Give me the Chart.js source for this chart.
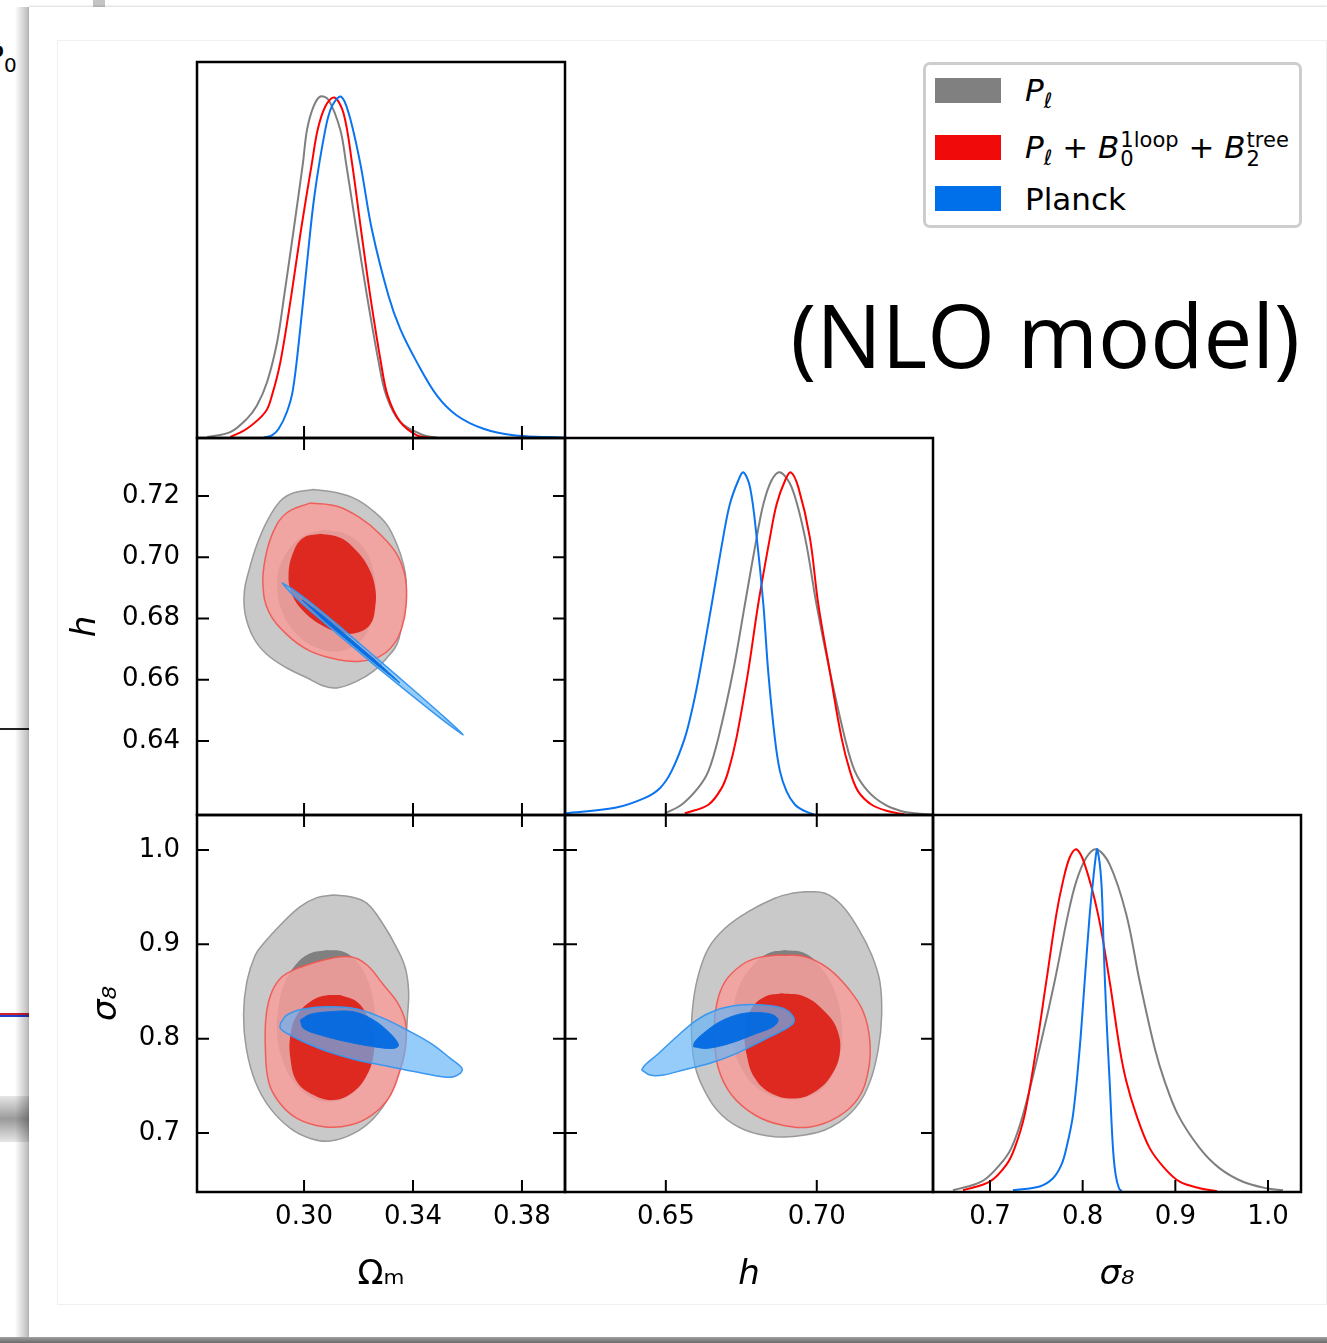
<!DOCTYPE html>
<html><head><meta charset="utf-8">
<script src="https://cdn.jsdelivr.net/npm/chart.js@4.4.1/dist/chart.umd.min.js"></script>
<style>
html,body{margin:0;padding:0;background:#fff;}
body{width:1327px;height:1343px;position:relative;overflow:hidden;font-family:'DejaVu Sans',sans-serif;color:#000;}
.abs{position:absolute;}
canvas.plot{position:absolute;left:0;top:0;}
.patch{width:66px;height:25px;}
.ltxt{font-family:'DejaVu Sans';font-size:31px;line-height:36px;white-space:nowrap;}
.ss{display:inline-flex;flex-direction:column;font-size:21px;line-height:19px;vertical-align:11px;margin-left:1px;}
.sb{font-size:21px;vertical-align:-7px;}
</style></head><body>
<!-- page / card decoration -->
<div class="abs" style="left:0;top:1096px;width:29px;height:46px;background:linear-gradient(#e6e6e6,#9a9a9a 50%,#e6e6e6);"></div>
<div class="abs" style="left:0;top:728px;width:29px;height:1.5px;background:#222;"></div>
<div class="abs" style="left:0;top:1013px;width:29px;height:2px;background:#d02030;"></div>
<div class="abs" style="left:0;top:1015px;width:29px;height:2px;background:#2040d0;"></div>
<div class="abs" style="left:-13px;top:40px;font-size:28px;line-height:34px;">P<span style="font-size:20px;vertical-align:-6px;">0</span></div>
<div class="abs" style="left:93px;top:0;width:12px;height:9px;background:#c4c4c4;"></div>
<div class="abs" style="left:15px;top:7px;width:14px;height:1331px;background:linear-gradient(to right,rgba(0,0,0,0),rgba(0,0,0,0.28));"></div>
<div class="abs" style="left:29px;top:7px;width:1298px;height:1331px;background:#fff;box-shadow:0 -1px 2px rgba(0,0,0,0.15);"></div>
<div class="abs" style="left:57px;top:40px;width:1270px;height:1265px;border:1px solid #f0f0f0;box-sizing:border-box;"></div>
<div class="abs" style="left:0;top:1337px;width:1327px;height:6px;background:linear-gradient(#a0a0a0,#6a6a6a);"></div>

<canvas id="c1" class="plot" width="1327" height="1343"></canvas>
<canvas id="c2" class="plot" width="1327" height="1343"></canvas>
<canvas id="c3" class="plot" width="1327" height="1343"></canvas>
<canvas id="c4" class="plot" width="1327" height="1343"></canvas>
<canvas id="c5" class="plot" width="1327" height="1343"></canvas>
<canvas id="c6" class="plot" width="1327" height="1343"></canvas>

<!-- legend -->
<div class="abs" style="left:923px;top:62px;width:379px;height:166px;border:3px solid #cdcdcd;border-radius:7px;box-sizing:border-box;background:#fff;"></div>
<div class="abs patch" style="left:935px;top:78px;background:#808080;"></div>
<div class="abs patch" style="left:935px;top:135px;background:#f00a0a;"></div>
<div class="abs patch" style="left:935px;top:186px;background:#0070ea;"></div>
<div class="abs ltxt" style="left:1025px;top:72px;"><i>P</i><span class="sb"><i>ℓ</i></span></div>
<div class="abs ltxt" style="left:1025px;top:129px;"><i>P</i><span class="sb"><i>ℓ</i></span> + <i>B</i><span class="ss"><span>1loop</span><span>0</span></span> + <i>B</i><span class="ss"><span>tree</span><span>2</span></span></div>
<div class="abs ltxt" style="left:1025px;top:181px;">Planck</div>
<div class="abs" style="right:27px;top:284px;font-family:'Open Sans';font-size:87px;line-height:100px;white-space:nowrap;">(NLO model)</div>

<script>
// ---------------- axis ticks ----------------
const omTicks = [0.30, 0.34, 0.38];
const omTickLabels = ['0.30', '0.34', '0.38'];
const hTicksX = [0.65, 0.70];
const hTickLabelsX = ['0.65', '0.70'];
const hTicksY = [0.64, 0.66, 0.68, 0.70, 0.72];
const hTickLabelsY = ['0.64', '0.66', '0.68', '0.70', '0.72'];
const s8Ticks = [0.7, 0.8, 0.9, 1.0];
const s8TickLabels = ['0.7', '0.8', '0.9', '1.0'];

const omRange = [0.2607, 0.3958];
const hRangeX = [0.6166, 0.7385];
const hRangeY = [0.6158, 0.7389];
const s8RangeX = [0.6385, 1.0356];
const s8RangeY = [0.6375, 1.0371];
const densRange = [0, 1.1];

// ---------------- 1D marginals ----------------
const omGrayX = [0.2644,0.2729,0.2790,0.2827,0.2864,0.2901,0.2927,0.2962,0.2996,0.3011,0.3035,0.3060,0.3090,0.3133,0.3154,0.3192,0.3231,0.3274,0.3302,0.3353,0.3439,0.3488];
const omGrayY = [0.003,0.017,0.056,0.095,0.163,0.280,0.416,0.610,0.805,0.902,0.970,0.999,0.989,0.902,0.805,0.610,0.416,0.222,0.124,0.047,0.008,0.001];
const omRedX = [0.2729,0.2790,0.2858,0.2882,0.2913,0.2953,0.2989,0.3029,0.3050,0.3078,0.3111,0.3145,0.3176,0.3209,0.3243,0.3282,0.3307,0.3353,0.3414,0.3463];
const omRedY = [0.003,0.027,0.076,0.124,0.222,0.416,0.610,0.805,0.902,0.970,0.996,0.950,0.805,0.610,0.416,0.222,0.124,0.047,0.008,0.001];
const omBlueX = [0.2852,0.2882,0.2907,0.2937,0.2959,0.2986,0.3011,0.3038,0.3078,0.3102,0.3135,0.3164,0.3206,0.3249,0.3310,0.3353,0.3414,0.3488,0.3561,0.3659,0.3769,0.3891,0.3958];
const omBlueY = [0.001,0.008,0.027,0.076,0.140,0.319,0.513,0.708,0.902,0.970,0.999,0.950,0.805,0.610,0.416,0.319,0.222,0.124,0.066,0.027,0.008,0.003,0.001];

const hGrayX = [0.6497,0.6552,0.6607,0.6641,0.6674,0.6723,0.6762,0.6801,0.6823,0.6850,0.6878,0.6917,0.6961,0.6999,0.7043,0.7093,0.7126,0.7170,0.7226,0.7281,0.7325,0.7385];
const hGrayY = [0.005,0.030,0.079,0.128,0.225,0.420,0.615,0.810,0.907,0.976,1.000,0.956,0.810,0.615,0.420,0.225,0.128,0.069,0.030,0.011,0.005,0.001];
const hRedX = [0.6563,0.6641,0.6685,0.6707,0.6734,0.6773,0.6806,0.6845,0.6867,0.6895,0.6914,0.6939,0.6977,0.7005,0.7043,0.7082,0.7110,0.7137,0.7182,0.7237,0.7290];
const hRedY = [0.005,0.030,0.079,0.128,0.225,0.420,0.615,0.810,0.907,0.976,1.000,0.956,0.810,0.615,0.420,0.225,0.128,0.069,0.030,0.011,0.002];
const hBlueX = [0.6166,0.6332,0.6431,0.6481,0.6519,0.6563,0.6591,0.6613,0.6652,0.6690,0.6712,0.6740,0.6757,0.6779,0.6801,0.6823,0.6839,0.6861,0.6878,0.6900,0.6928,0.6961,0.6990];
const hBlueY = [0.005,0.021,0.050,0.079,0.128,0.225,0.323,0.420,0.615,0.810,0.907,0.976,1.000,0.956,0.810,0.615,0.420,0.225,0.128,0.069,0.030,0.011,0.002];

const s8GrayX = [0.6601,0.6907,0.7104,0.7230,0.7356,0.7536,0.7698,0.7842,0.7932,0.8040,0.8148,0.8291,0.8471,0.8615,0.8777,0.8885,0.9029,0.9263,0.9479,0.9730,0.9982,1.0162];
const s8GrayY = [0.005,0.030,0.079,0.128,0.225,0.420,0.615,0.810,0.907,0.976,1.000,0.956,0.810,0.615,0.420,0.323,0.225,0.128,0.069,0.030,0.011,0.005];
const s8RedX = [0.6709,0.6997,0.7176,0.7266,0.7374,0.7500,0.7608,0.7716,0.7788,0.7860,0.7932,0.8022,0.8166,0.8291,0.8399,0.8471,0.8579,0.8723,0.8885,0.9047,0.9263,0.9450];
const s8RedY = [0.005,0.030,0.079,0.128,0.225,0.420,0.615,0.810,0.907,0.976,1.000,0.956,0.810,0.615,0.420,0.323,0.225,0.128,0.069,0.030,0.011,0.002];
const s8BlueX = [0.7248,0.7536,0.7680,0.7770,0.7824,0.7896,0.7968,0.8022,0.8076,0.8112,0.8140,0.8158,0.8201,0.8227,0.8255,0.8291,0.8327,0.8356,0.8392,0.8420];
const s8BlueY = [0.005,0.016,0.040,0.079,0.128,0.225,0.420,0.615,0.810,0.907,0.976,1.000,0.907,0.712,0.518,0.323,0.128,0.050,0.011,0.002];

// ---------------- 2D contours (x, y) ----------------
// Omega_m vs h
const omH_grayOuter = [[0.3035,0.7221],[0.3121,0.7210],[0.3194,0.7188],[0.3255,0.7150],[0.3304,0.7106],[0.3341,0.7041],[0.3365,0.6976],[0.3375,0.6921],[0.3372,0.6845],[0.3359,0.6780],[0.3341,0.6715],[0.3304,0.6671],[0.3255,0.6628],[0.3194,0.6595],[0.3121,0.6573],[0.3072,0.6579],[0.3011,0.6606],[0.2937,0.6638],[0.2864,0.6682],[0.2815,0.6736],[0.2784,0.6813],[0.2781,0.6889],[0.2797,0.6954],[0.2827,0.7041],[0.2864,0.7117],[0.2913,0.7183],[0.2962,0.7210]];
const omH_grayInner = [[0.3072,0.7090],[0.3157,0.7074],[0.3219,0.7030],[0.3255,0.6954],[0.3261,0.6867],[0.3243,0.6780],[0.3206,0.6726],[0.3133,0.6693],[0.3047,0.6704],[0.2974,0.6747],[0.2919,0.6823],[0.2901,0.6911],[0.2919,0.6987],[0.2986,0.7063]];
const omH_redOuter = [[0.3023,0.7177],[0.3121,0.7166],[0.3206,0.7128],[0.3280,0.7074],[0.3341,0.7009],[0.3372,0.6932],[0.3375,0.6845],[0.3359,0.6769],[0.3329,0.6715],[0.3280,0.6677],[0.3206,0.6660],[0.3121,0.6666],[0.3023,0.6693],[0.2937,0.6747],[0.2870,0.6823],[0.2849,0.6911],[0.2858,0.6998],[0.2888,0.7085],[0.2937,0.7145]];
const omH_redInner = [[0.3060,0.7076],[0.3133,0.7063],[0.3194,0.7019],[0.3237,0.6965],[0.3261,0.6900],[0.3261,0.6834],[0.3243,0.6780],[0.3194,0.6753],[0.3133,0.6753],[0.3060,0.6780],[0.2998,0.6823],[0.2956,0.6878],[0.2943,0.6943],[0.2962,0.7019],[0.2998,0.7063]];
const omH_blueOuter = [[0.2919,0.6916],[0.2952,0.6899],[0.3019,0.6855],[0.3119,0.6782],[0.3251,0.6682],[0.3384,0.6580],[0.3517,0.6476],[0.3584,0.6420],[0.3517,0.6463],[0.3384,0.6557],[0.3251,0.6653],[0.3119,0.6752],[0.3019,0.6828],[0.2952,0.6883]];
const omH_blueInner = [[0.2993,0.6860],[0.3065,0.6812],[0.3173,0.6731],[0.3280,0.6649],[0.3352,0.6589],[0.3280,0.6639],[0.3173,0.6718],[0.3065,0.6800]];

// Omega_m vs sigma_8
const omS_grayOuter = [[0.3109,0.9523],[0.3170,0.9505],[0.3231,0.9435],[0.3292,0.9205],[0.3341,0.8958],[0.3372,0.8746],[0.3384,0.8498],[0.3380,0.8251],[0.3372,0.7968],[0.3353,0.7686],[0.3316,0.7403],[0.3255,0.7155],[0.3182,0.6996],[0.3096,0.6915],[0.3023,0.6943],[0.2950,0.7049],[0.2876,0.7261],[0.2821,0.7544],[0.2788,0.7897],[0.2778,0.8251],[0.2790,0.8604],[0.2821,0.8887],[0.2852,0.9011],[0.2913,0.9205],[0.2986,0.9399],[0.3047,0.9495]];
const omS_grayInner = [[0.3084,0.8940],[0.3145,0.8922],[0.3194,0.8816],[0.3231,0.8640],[0.3255,0.8392],[0.3261,0.8109],[0.3249,0.7827],[0.3219,0.7580],[0.3170,0.7403],[0.3096,0.7332],[0.3023,0.7385],[0.2962,0.7544],[0.2919,0.7791],[0.2901,0.8074],[0.2907,0.8357],[0.2931,0.8604],[0.2974,0.8799],[0.3023,0.8905]];
const omS_redOuter = [[0.2974,0.8746],[0.3072,0.8834],[0.3170,0.8869],[0.3231,0.8781],[0.3292,0.8569],[0.3341,0.8392],[0.3372,0.8180],[0.3372,0.7897],[0.3347,0.7615],[0.3310,0.7367],[0.3249,0.7191],[0.3170,0.7085],[0.3072,0.7067],[0.2974,0.7155],[0.2907,0.7332],[0.2870,0.7544],[0.2858,0.7897],[0.2861,0.8251],[0.2882,0.8498],[0.2919,0.8657]];
const omS_redInner = [[0.3133,0.8463],[0.3194,0.8392],[0.3231,0.8251],[0.3255,0.8074],[0.3255,0.7827],[0.3231,0.7615],[0.3182,0.7438],[0.3109,0.7350],[0.3035,0.7403],[0.2974,0.7544],[0.2950,0.7791],[0.2950,0.8039],[0.2974,0.8251],[0.3023,0.8392],[0.3072,0.8456]];
const omS_blueOuter = [[0.2913,0.8162],[0.2937,0.8251],[0.2998,0.8314],[0.3096,0.8339],[0.3194,0.8314],[0.3292,0.8215],[0.3390,0.8074],[0.3475,0.7933],[0.3537,0.7791],[0.3580,0.7686],[0.3573,0.7632],[0.3537,0.7590],[0.3439,0.7632],[0.3316,0.7703],[0.3194,0.7774],[0.3096,0.7855],[0.2998,0.7968],[0.2937,0.8056],[0.2913,0.8109]];
const omS_blueInner = [[0.2986,0.8198],[0.3023,0.8258],[0.3096,0.8286],[0.3182,0.8286],[0.3255,0.8198],[0.3316,0.8056],[0.3347,0.7933],[0.3329,0.7897],[0.3255,0.7915],[0.3157,0.7968],[0.3060,0.8039],[0.2998,0.8109]];

// h vs sigma_8
const hS_grayOuter = [[0.6961,0.9558],[0.7027,0.9541],[0.7082,0.9417],[0.7137,0.9170],[0.7182,0.8887],[0.7209,0.8604],[0.7215,0.8251],[0.7204,0.7897],[0.7176,0.7544],[0.7126,0.7261],[0.7049,0.7067],[0.6961,0.6979],[0.6861,0.6961],[0.6762,0.7032],[0.6685,0.7191],[0.6630,0.7438],[0.6596,0.7721],[0.6585,0.8074],[0.6591,0.8392],[0.6608,0.8675],[0.6641,0.8958],[0.6696,0.9170],[0.6773,0.9346],[0.6861,0.9488],[0.6917,0.9541]];
const hS_grayInner = [[0.6894,0.8940],[0.6961,0.8905],[0.7016,0.8746],[0.7060,0.8498],[0.7082,0.8180],[0.7077,0.7827],[0.7038,0.7544],[0.6972,0.7385],[0.6883,0.7367],[0.6806,0.7473],[0.6751,0.7686],[0.6723,0.7968],[0.6723,0.8286],[0.6745,0.8569],[0.6790,0.8781],[0.6839,0.8905]];
const hS_redOuter = [[0.6872,0.8887],[0.6961,0.8869],[0.7038,0.8746],[0.7104,0.8534],[0.7154,0.8286],[0.7176,0.7968],[0.7170,0.7650],[0.7137,0.7367],[0.7071,0.7173],[0.6983,0.7067],[0.6883,0.7085],[0.6795,0.7191],[0.6718,0.7403],[0.6674,0.7686],[0.6661,0.8039],[0.6668,0.8357],[0.6696,0.8604],[0.6751,0.8781],[0.6806,0.8859]];
const hS_redInner = [[0.6883,0.8481],[0.6961,0.8445],[0.7027,0.8286],[0.7066,0.8109],[0.7077,0.7862],[0.7049,0.7615],[0.6994,0.7438],[0.6928,0.7367],[0.6850,0.7420],[0.6795,0.7580],[0.6768,0.7827],[0.6762,0.8109],[0.6784,0.8321],[0.6828,0.8445]];
const hS_blueOuter = [[0.6420,0.7668],[0.6447,0.7615],[0.6492,0.7615],[0.6558,0.7668],[0.6646,0.7739],[0.6735,0.7845],[0.6823,0.7986],[0.6889,0.8092],[0.6922,0.8162],[0.6922,0.8233],[0.6889,0.8321],[0.6823,0.8357],[0.6746,0.8357],[0.6668,0.8304],[0.6602,0.8198],[0.6536,0.8021],[0.6470,0.7827],[0.6431,0.7721]];
const hS_blueInner = [[0.6591,0.7915],[0.6635,0.7897],[0.6712,0.7950],[0.6801,0.8056],[0.6856,0.8127],[0.6872,0.8198],[0.6856,0.8251],[0.6812,0.8276],[0.6746,0.8261],[0.6679,0.8180],[0.6624,0.8056],[0.6596,0.7968]];

// ---------------- helpers ----------------
Chart.defaults.font.family = 'DejaVu Sans';
const W = 1327, H = 1343;
const TICK_FONT = {family: 'DejaVu Sans', size: 26};
const TITLE_FONT = {family: 'DejaVu Sans', size: 34};

const framePlugin = {
  id: 'frame',
  afterDraw(chart, args, o) {
    const {ctx, chartArea: a} = chart;
    const sx = chart.scales.x, sy = chart.scales.y;
    ctx.save();
    ctx.strokeStyle = '#000';
    ctx.lineWidth = 2;
    ctx.beginPath();
    const L = 12;
    (sx.ticks || []).forEach(t => {
      const p = sx.getPixelForValue(t.value);
      if (o.xSides.includes('bottom')) { ctx.moveTo(p, a.bottom); ctx.lineTo(p, a.bottom - L); }
      if (o.xSides.includes('top')) { ctx.moveTo(p, a.top); ctx.lineTo(p, a.top + L); }
    });
    if (o.ySides.length) (sy.ticks || []).forEach(t => {
      const p = sy.getPixelForValue(t.value);
      if (o.ySides.includes('left')) { ctx.moveTo(a.left, p); ctx.lineTo(a.left + L, p); }
      if (o.ySides.includes('right')) { ctx.moveTo(a.right, p); ctx.lineTo(a.right - L, p); }
    });
    ctx.stroke();
    ctx.lineWidth = 2.5;
    ctx.strokeRect(a.left, a.top, a.right - a.left, a.bottom - a.top);
    ctx.restore();
  }
};

const toPts = (xs, ys) => xs.map((x, i) => ({x: x, y: ys[i]}));
const closedPts = arr => arr.concat([arr[0]]).map(p => ({x: p[0], y: p[1]}));

function line1D(xs, ys, color, order) {
  return {data: toPts(xs, ys), showLine: true, borderColor: color, borderWidth: 2,
    pointRadius: 0, pointHoverRadius: 0, fill: false, tension: 0.35, order: order};
}
function contour(arr, fillColor, edgeColor, edgeWidth, order, tension) {
  return {data: closedPts(arr), showLine: true, backgroundColor: fillColor, borderColor: edgeColor,
    borderWidth: edgeWidth, pointRadius: 0, pointHoverRadius: 0, fill: 'shape', tension: tension, order: order};
}

function axis(range, tickVals, tickLabels, o) {
  o = o || {};
  return {
    type: 'linear', min: range[0], max: range[1], display: !!o.display,
    afterBuildTicks: s => { if (tickVals) s.ticks = tickVals.map(v => ({value: v})); },
    afterFit: s => { if (o.size !== undefined) { if (s.isHorizontal()) s.height = o.size; else s.width = o.size; } },
    grid: {display: false, drawTicks: false},
    border: {display: false},
    ticks: {display: !!o.labels, font: TICK_FONT, color: '#000', padding: o.pad || 0,
      autoSkip: false, maxRotation: 0, minRotation: 0,
      callback: (v, i) => tickLabels ? tickLabels[i] : ''},
    title: o.title ? {display: true, text: o.title, color: '#000',
      font: Object.assign({}, TITLE_FONT, {style: o.italic ? 'italic' : 'normal'}),
      padding: o.tpad} : {display: false}
  };
}

function makeChart(id, datasets, pad, xAxis, yAxis, xSides, ySides) {
  return new Chart(document.getElementById(id), {
    type: 'scatter',
    data: {datasets: datasets},
    plugins: [framePlugin],
    options: {
      responsive: false, animation: false, events: [], devicePixelRatio: 1, maintainAspectRatio: false,
      layout: {padding: pad},
      plugins: {legend: {display: false}, tooltip: {enabled: false}, frame: {xSides: xSides, ySides: ySides}},
      scales: {x: xAxis, y: yAxis}
    }
  });
}

const GRAY_LINE = '#7f7f7f', RED_LINE = '#ff0000', BLUE_LINE = '#0a74f0';
const GRAY_OUT = '#c9c9c9', GRAY_OUT_EDGE = '#9a9a9a', GRAY_IN = '#808080';
const RED_OUT = 'rgba(246,158,156,0.86)', RED_OUT_EDGE = 'rgba(240,85,80,0.9)', RED_IN = 'rgba(222,36,28,0.96)';
const BLUE_OUT = 'rgba(100,180,247,0.68)', BLUE_OUT_EDGE = '#3a97ef', BLUE_IN = 'rgba(0,104,226,0.93)', BLUE_IN_EDGE = '#0a6fe0';

function contourSet(g1, g2, r1, r2, b1, b2, bt) {
  return [
    contour(g1, GRAY_OUT, GRAY_OUT_EDGE, 1.5, 5, 0.4),
    contour(g2, GRAY_IN, GRAY_IN, 0, 4, 0.4),
    contour(r1, RED_OUT, RED_OUT_EDGE, 1.5, 3, 0.4),
    contour(r2, RED_IN, RED_IN, 0, 2, 0.4),
    contour(b1, BLUE_OUT, BLUE_OUT_EDGE, 1.5, 1, bt),
    contour(b2, BLUE_IN, BLUE_IN_EDGE, 1, 0, bt)
  ];
}

// Panel: Omega_m 1D (L197 T62 R565 B438)
makeChart('c1', [
  line1D(omGrayX, omGrayY, GRAY_LINE, 2),
  line1D(omRedX, omRedY, RED_LINE, 1),
  line1D(omBlueX, omBlueY, BLUE_LINE, 0)
], {left: 197, top: 62, right: W - 565, bottom: H - 438},
  axis(omRange, omTicks, null), axis(densRange, null, null), ['bottom'], []);

// Panel: Omega_m vs h (L197 T438 R565 B815)
makeChart('c2', contourSet(omH_grayOuter, omH_grayInner, omH_redOuter, omH_redInner, omH_blueOuter, omH_blueInner, 0.25),
  {left: 40, top: 438, right: W - 565, bottom: H - 815},
  axis(omRange, omTicks, null),
  axis(hRangeY, hTicksY, hTickLabelsY, {display: true, labels: true, size: 157, pad: 17, title: 'h', italic: true, tpad: {top: 26, bottom: 0}}),
  ['bottom', 'top'], ['left', 'right']);

// Panel: h 1D (L565 T438 R933 B815)
makeChart('c3', [
  line1D(hGrayX, hGrayY, GRAY_LINE, 2),
  line1D(hRedX, hRedY, RED_LINE, 1),
  line1D(hBlueX, hBlueY, BLUE_LINE, 0)
], {left: 565, top: 438, right: W - 933, bottom: H - 815},
  axis(hRangeX, hTicksX, null), axis(densRange, null, null), ['bottom'], []);

// Panel: Omega_m vs sigma_8 (L197 T815 R565 B1192)
makeChart('c4', contourSet(omS_grayOuter, omS_grayInner, omS_redOuter, omS_redInner, omS_blueOuter, omS_blueInner, 0.35),
  {left: 40, top: 815, right: W - 565, bottom: H - 1192 - 110},
  axis(omRange, omTicks, omTickLabels, {display: true, labels: true, size: 110, pad: 10, title: 'Ωₘ', italic: false, tpad: {top: 0, bottom: 6}}),
  axis(s8RangeY, s8Ticks, s8TickLabels, {display: true, labels: true, size: 157, pad: 17, title: 'σ₈', italic: true, tpad: {top: 47, bottom: 0}}),
  ['bottom', 'top'], ['left', 'right']);

// Panel: h vs sigma_8 (L565 T815 R933 B1192)
makeChart('c5', contourSet(hS_grayOuter, hS_grayInner, hS_redOuter, hS_redInner, hS_blueOuter, hS_blueInner, 0.35),
  {left: 565, top: 815, right: W - 933, bottom: H - 1192 - 110},
  axis(hRangeX, hTicksX, hTickLabelsX, {display: true, labels: true, size: 110, pad: 10, title: 'h', italic: true, tpad: {top: 0, bottom: 6}}),
  axis(s8RangeY, s8Ticks, null),
  ['bottom', 'top'], ['left', 'right']);

// Panel: sigma_8 1D (L933 T815 R1301 B1192)
makeChart('c6', [
  line1D(s8GrayX, s8GrayY, GRAY_LINE, 2),
  line1D(s8RedX, s8RedY, RED_LINE, 1),
  line1D(s8BlueX, s8BlueY, BLUE_LINE, 0)
], {left: 933, top: 815, right: W - 1301, bottom: H - 1192 - 110},
  axis(s8RangeX, s8Ticks, s8TickLabels, {display: true, labels: true, size: 110, pad: 10, title: 'σ₈', italic: true, tpad: {top: 0, bottom: 6}}),
  axis(densRange, null, null), ['bottom'], []);
</script>
</body></html>
